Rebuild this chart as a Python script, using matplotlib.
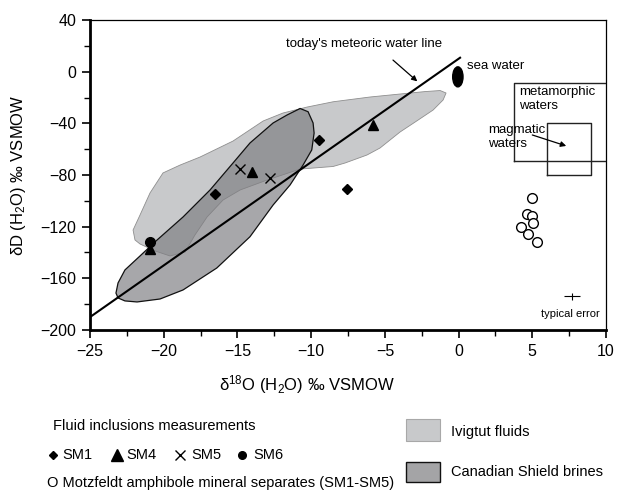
import numpy as np
import matplotlib
matplotlib.use('Agg')
import matplotlib.pyplot as plt
from matplotlib.patches import Polygon, Ellipse, Rectangle
from matplotlib.lines import Line2D

plt.rcParams['font.family'] = ['Liberation Sans', 'DejaVu Sans']
plt.rcParams['mathtext.fontset'] = 'custom'
plt.rcParams['mathtext.rm'] = 'Liberation Sans'
plt.rcParams['mathtext.it'] = 'Liberation Sans:italic'

# fluid inclusion measurements (d18O, dD)
sm1_x = [-16.5, -9.5, -7.6]
sm1_y = [-95, -53, -91]
sm4_x = [-14.0, -5.8, -20.9]
sm4_y = [-78, -41, -137]
sm5_x = [-14.8, -12.8]
sm5_y = [-75, -82]
sm6_x = [-20.9]
sm6_y = [-132]

# Motzfeldt amphibole mineral separates
amph_x = [5.0, 4.65, 5.0, 5.05, 4.25, 4.7, 5.3]
amph_y = [-98, -110, -112, -117, -120, -126, -132]

# sea water
sea_x, sea_y, sea_w, sea_h = -0.05, -4.0, 0.7, 15.5

# meteoric water line end points
mwl_x = [-25, 0.1]
mwl_y = [-190, 10.8]

# typical error
err_x, err_y, err_dx, err_dy = 7.7, -174, 0.55, 2.6

# field boxes (x0, x1, y0, y1)
metamorphic = (3.75, 10.5, -69, -9)
magmatic = (6.0, 9.0, -80, -40)

# Ivigtut fluids field outline
ivig_x = [-21.95, -22.08, -21.61, -20.93, -20.05, -18.89, -17.54, -15.30, -13.26,
          -11.91, -10.28, -8.51, -6.00, -3.97, -2.27, -1.25, -0.85, -1.05, -1.73,
          -2.95, -3.97, -5.33, -6.21, -7.70, -8.51, -10.75, -12.99, -14.82, -15.98,
          -17.06, -17.88, -18.55, -19.57, -20.59, -21.61]
ivig_y = [-130.3, -122.6, -111.0, -93.9, -78.4, -72.3, -66.1, -53.7, -38.2,
          -32.0, -27.4, -23.3, -19.6, -17.3, -15.4, -14.6, -16.5, -21.9, -29.7,
          -39.0, -46.7, -59.1, -64.5, -70.7, -73.4, -75.4, -83.9, -91.6, -99.4,
          -112.5, -126.4, -139.6, -142.7, -138.8, -133.4]

# Canadian Shield brines field outline
csb_x = [-23.24, -23.10, -22.63, -21.61, -20.45, -18.69, -16.86, -15.30, -14.15,
         -12.58, -11.63, -10.75, -10.21, -9.87, -9.80, -9.96, -10.55, -11.43,
         -12.58, -14.15, -16.40, -18.69, -20.25, -21.81, -22.63, -23.10]
csb_y = [-171.4, -163.6, -153.5, -142.7, -130.3, -112.5, -91.6, -70.7, -55.2,
         -39.7, -33.5, -28.5, -31.0, -39.7, -47.5, -60.6, -72.3, -87.7,
         -103.2, -127.8, -152.0, -169.0, -176.0, -178.3, -177.5, -175.2]

ivig_col = '#c8c9cb'
csb_col = '#7e7e82'

fig = plt.figure(figsize=(6.17, 4.92), dpi=100)
ax = fig.add_axes([0.1459, 0.3293, 0.8363, 0.63])

ax.add_patch(Polygon(np.column_stack([ivig_x, ivig_y]), closed=True,
                     facecolor=ivig_col, edgecolor='#8e8e8e', lw=0.6, zorder=1))
ax.add_patch(Polygon(np.column_stack([csb_x, csb_y]), closed=True,
                     facecolor=csb_col, alpha=0.68, edgecolor='none', zorder=2))
ax.add_patch(Polygon(np.column_stack([csb_x, csb_y]), closed=True,
                     facecolor='none', edgecolor='#111111', lw=0.9, zorder=2))

ax.plot(mwl_x, mwl_y, color='black', lw=1.5, zorder=3)

ax.add_patch(Ellipse((sea_x, sea_y), sea_w, sea_h, color='black', zorder=4))

for (x0, x1, y0, y1) in [metamorphic, magmatic]:
    ax.plot([x0, x1, x1, x0, x0], [y0, y0, y1, y1, y0], color='#222222', lw=1.0,
            zorder=3, clip_on=True)

ax.plot(sm1_x, sm1_y, 'D', color='black', ms=5, zorder=5)
ax.plot(sm4_x, sm4_y, '^', color='black', ms=7.5, zorder=5)
ax.plot(sm5_x, sm5_y, 'x', color='black', ms=7, mew=1.0, zorder=5)
ax.plot(sm6_x, sm6_y, 'o', color='black', ms=7, zorder=5)
ax.plot(amph_x, amph_y, 'o', mfc='white', mec='black', ms=7, mew=1.0, zorder=5)

ax.errorbar([err_x], [err_y], xerr=err_dx, yerr=err_dy, fmt='none', ecolor='black',
            elinewidth=0.8, capsize=0)
ax.text(7.6, -188, 'typical error', fontsize=8, ha='center', va='center')

arrow = dict(arrowstyle='-|>', color='black', lw=0.9, mutation_scale=8,
             shrinkA=0, shrinkB=0)
ax.text(-11.7, 21.4, "today's meteoric water line", fontsize=9.5, ha='left', va='center')
ax.annotate('', xy=(-2.8, -7.5), xytext=(-4.45, 9.0), arrowprops=arrow)
ax.text(0.55, 4.6, 'sea water', fontsize=9.5, ha='left', va='center')
ax.text(4.1, -21, 'metamorphic\nwaters', fontsize=9.5, ha='left', va='center',
        linespacing=1.2)
ax.text(2.0, -50.6, 'magmatic\nwaters', fontsize=9.5, ha='left', va='center',
        linespacing=1.2)
ax.annotate('', xy=(7.3, -57.5), xytext=(5.0, -49), arrowprops=arrow)

ax.set_xlim(-25, 10)
ax.set_ylim(-200, 40)
ax.set_xticks(np.arange(-25, 11, 5))
ax.set_yticks(np.arange(-200, 41, 40))
ax.set_xticks(np.arange(-22.5, 10, 5), minor=True)
ax.set_yticks(np.arange(-180, 40, 40), minor=True)
ax.tick_params(which='major', direction='out', length=6, width=1.2, labelsize=11.5,
               pad=4)
ax.tick_params(which='minor', direction='out', length=4, width=1.0)
ax.spines['left'].set_linewidth(2)
ax.spines['bottom'].set_linewidth(2)
ax.spines['top'].set_linewidth(0.9)
ax.spines['right'].set_linewidth(0.9)

ax.set_xlabel('δ$^{18}$O (H$_2$O) ‰ VSMOW', fontsize=12)
ax.set_ylabel('δD (H$_2$O) ‰ VSMOW', fontsize=12)
ax.xaxis.set_label_coords(0.42, -0.14)
ax.yaxis.set_label_coords(-0.12, 0.5)

# legend block under the chart
fs = 10.5
fig.text(0.0854, 0.1348, 'Fluid inclusions measurements', fontsize=fs, va='center')
row_y = 0.0752
for mx, tx, mk, ms, lab in [(0.0854, 0.1016, 'D', 4.5, 'SM1'),
                            (0.1891, 0.2053, '^', 9, 'SM4'),
                            (0.2917, 0.3107, 'x', 6.5, 'SM5'),
                            (0.3927, 0.4105, 'o', 5.5, 'SM6')]:
    fig.add_artist(Line2D([mx], [row_y], marker=mk, color='black', ms=ms, mew=1.0,
                          linestyle='none', transform=fig.transFigure))
    fig.text(tx, row_y, lab, fontsize=fs, va='center')
fig.text(0.076, 0.0175, 'O Motzfeldt amphibole mineral separates (SM1-SM5)',
         fontsize=fs, va='center')

fig.add_artist(Rectangle((0.6575, 0.1043), 0.0556, 0.0435, transform=fig.transFigure,
                         facecolor=ivig_col, edgecolor='#a8a8a8', lw=0.8))
fig.text(0.731, 0.1226, 'Ivigtut fluids', fontsize=fs, va='center')
fig.add_artist(Rectangle((0.6575, 0.0197), 0.0556, 0.0419, transform=fig.transFigure,
                         facecolor='#a4a4a6', edgecolor='#111111', lw=1.0))
fig.text(0.731, 0.0413, 'Canadian Shield brines', fontsize=fs, va='center')

fig.savefig('out.png', dpi=100)
